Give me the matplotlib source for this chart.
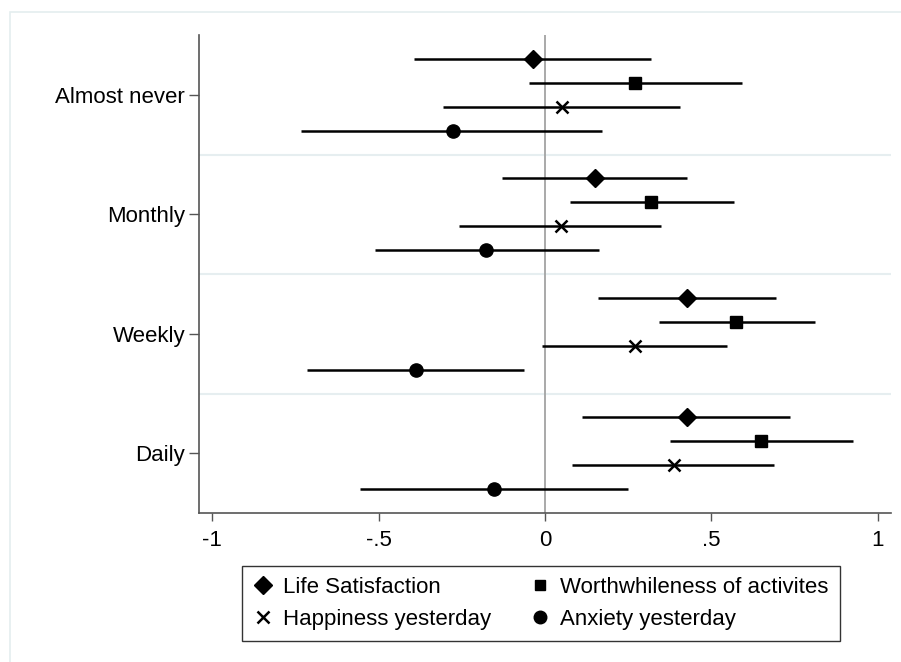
"""Coefficient plot: wellbeing outcomes by frequency category (Stata-style)."""
import matplotlib
matplotlib.use("Agg")
import matplotlib.pyplot as plt
from matplotlib.lines import Line2D
from matplotlib.patches import Rectangle

plt.rcParams["font.family"] = ["Liberation Sans", "DejaVu Sans"]

# --- data -------------------------------------------------------------------
categories = ["Almost never", "Monthly", "Weekly", "Daily"]
series_names = ["Life Satisfaction", "Worthwhileness of activites",
                "Happiness yesterday", "Anxiety yesterday"]

life_est = [-0.037, 0.149, 0.428, 0.426]
life_lo = [-0.393, -0.130, 0.159, 0.111]
life_hi = [0.320, 0.426, 0.695, 0.736]

worth_est = [0.272, 0.320, 0.574, 0.650]
worth_lo = [-0.047, 0.076, 0.344, 0.376]
worth_hi = [0.591, 0.568, 0.812, 0.926]

happy_est = [0.051, 0.047, 0.272, 0.387]
happy_lo = [-0.308, -0.260, -0.009, 0.080]
happy_hi = [0.405, 0.350, 0.546, 0.688]

anx_est = [-0.278, -0.177, -0.389, -0.152]
anx_lo = [-0.732, -0.511, -0.715, -0.555]
anx_hi = [0.171, 0.161, -0.062, 0.250]

xticks = [-1, -0.5, 0, 0.5, 1]
xtick_labels = ["-1", "-.5", "0", ".5", "1"]

# --- figure -----------------------------------------------------------------
W, H = 901, 662
fig = plt.figure(figsize=(W / 100, H / 100), dpi=100)
fig.patches.append(Rectangle((10 / W, -0.01), 1, 1.01 - 12 / H, transform=fig.transFigure,
                             fill=False, edgecolor="#e4eeef", lw=1.2))

ax = fig.add_axes([199 / W, 1 - 513 / H, (891 - 199) / W, (513 - 35) / H])

series = [
    (life_est, life_lo, life_hi, "D", 9.5, -0.3),
    (worth_est, worth_lo, worth_hi, "s", 8, -0.1),
    (happy_est, happy_lo, happy_hi, "x", 9, 0.1),
    (anx_est, anx_lo, anx_hi, "o", 9.5, 0.3),
]

ax.axvline(0, color="#a3a3a3", lw=1.3, zorder=1)
for b in [0.5, 1.5, 2.5]:
    ax.axhline(b, color="#e6eef0", lw=1.5, zorder=0)

for est, lo, hi, mk, ms, off in series:
    ys = [i + off for i in range(len(categories))]
    ax.hlines(ys, lo, hi, color="black", lw=1.8, zorder=2)
    ax.plot(est, ys, linestyle="none", marker=mk, ms=ms, color="black",
            mew=1.8 if mk == "x" else 1, zorder=3)

ax.set_xlim(-1.04, 1.04)
ax.set_ylim(3.5, -0.5)
ax.set_yticks(range(len(categories)))
ax.set_yticklabels(categories, fontsize=16)
ax.set_xticks(xticks)
ax.set_xticklabels(xtick_labels, fontsize=16)

for side in ["top", "right"]:
    ax.spines[side].set_visible(False)
for side in ["left", "bottom"]:
    ax.spines[side].set_color("#555555")
    ax.spines[side].set_linewidth(1.2)
ax.tick_params(axis="y", length=7, width=1, color="#555555", pad=3)
ax.tick_params(axis="x", length=5.5, width=1, color="#555555", pad=7)

handles = [Line2D([], [], linestyle="none", marker=mk, ms=ms * 0.95, color="black",
                  mew=1.8 if mk == "x" else 1)
           for _, _, _, mk, ms, _ in series]
# legend fills column-major; reorder so rows read Life/Worth, Happy/Anxiety
order = [0, 2, 1, 3]
leg = fig.legend([handles[i] for i in order], [series_names[i] for i in order],
                 ncol=2, fontsize=16, loc="upper left",
                 bbox_to_anchor=(242 / W, 1 - 566 / H),
                 frameon=True, fancybox=False, edgecolor="black",
                 handlelength=0.9, handletextpad=0.45, borderpad=0.5,
                 labelspacing=0.5, columnspacing=1.75, borderaxespad=0)
leg.get_frame().set_linewidth(1.0)

fig.savefig("out.png", dpi=100)
